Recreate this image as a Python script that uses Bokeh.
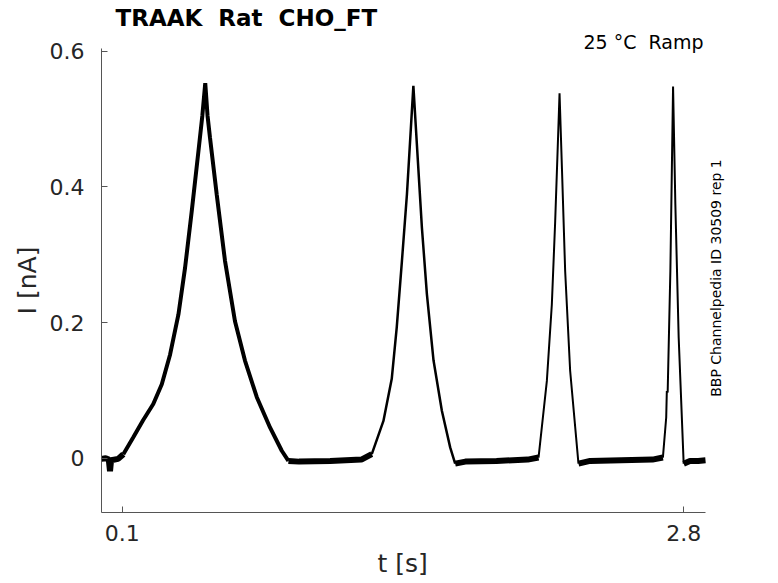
import math
from bokeh.plotting import figure
from bokeh.models import Range1d, FixedTicker, Title, Label
from bokeh.embed import file_html
from bokeh.resources import INLINE

FONT = "DejaVu Sans"

# ---- data ----
title_text = "TRAAK  Rat  CHO_FT"
cond_text = "25 °C  Ramp"
source_text = "BBP Channelpedia ID 30509 rep 1"
x_label = "t [s]"
y_label = "I [nA]"

x_ticks = [0.1, 2.8]
x_tick_labels = ["0.1", "2.8"]
y_ticks = [0.0, 0.2, 0.4, 0.6]
y_tick_labels = ["0", "0.2", "0.4", "0.6"]

t_start, t_end = 0.0, 2.905
i_min, i_max = -0.08, 0.604

# baseline before first ramp
base0_t = [0.0, 0.02, 0.035, 0.041, 0.046, 0.08, 0.105]
base0_i = [-0.001, 0.0, -0.002, -0.019, -0.003, -0.001, 0.006]

# first (slow) ramp
peak1_t = [0.105, 0.153, 0.200, 0.249, 0.290, 0.330, 0.370, 0.402, 0.434, 0.466, 0.485,
           0.499, 0.510, 0.522, 0.554, 0.594, 0.642, 0.690, 0.747, 0.811, 0.867, 0.899]
peak1_i = [0.006, 0.031, 0.056, 0.080, 0.109, 0.153, 0.212, 0.281, 0.364, 0.452, 0.505,
           0.553, 0.505, 0.472, 0.389, 0.291, 0.202, 0.144, 0.090, 0.045, 0.011, -0.004]

base1_t = [0.899, 0.95, 1.10, 1.25, 1.300]
base1_i = [-0.004, -0.005, -0.004, -0.002, 0.006]

# second ramp
peak2_t = [1.300, 1.356, 1.396, 1.420, 1.445, 1.469, 1.488, 1.500,
           1.517, 1.541, 1.565, 1.597, 1.637, 1.677, 1.701]
peak2_i = [0.006, 0.055, 0.117, 0.193, 0.291, 0.389, 0.487, 0.549,
           0.462, 0.340, 0.242, 0.144, 0.070, 0.016, -0.008]

base2_t = [1.701, 1.75, 1.90, 2.05, 2.102]
base2_i = [-0.008, -0.005, -0.004, -0.002, 0.001]

# third ramp
peak3_t = [2.102, 2.142, 2.166, 2.182, 2.193, 2.203, 2.215, 2.230, 2.254, 2.294]
peak3_i = [0.001, 0.114, 0.227, 0.349, 0.447, 0.538, 0.423, 0.276, 0.129, -0.008]

base3_t = [2.294, 2.35, 2.50, 2.65, 2.700]
base3_i = [-0.008, -0.004, -0.003, -0.002, 0.001]

# fourth (fast) ramp
peak4_t = [2.700, 2.716, 2.719, 2.723, 2.736, 2.749, 2.760, 2.776, 2.800]
peak4_i = [0.001, 0.060, 0.099, 0.097, 0.276, 0.548, 0.374, 0.178, -0.008]

base4_t = [2.800, 2.83, 2.87, 2.905]
base4_i = [-0.008, -0.004, -0.004, -0.003]


def keep_spaces(s):
    # double blanks would be collapsed in SVG text; keep the gap visible
    return s.replace("  ", " \u00a0")


# ---- figure ----
W, H = 772, 582
FRAME_L, FRAME_R, FRAME_T, FRAME_B = 101, 730, 47, 512
AXIS_R = 705  # where the x axis line ends (= t_end)
px_per_s = (AXIS_R - FRAME_L) / (t_end - t_start)
x_view_end = t_start + (FRAME_R - FRAME_L) / px_per_s

p = figure(width=W, height=H, output_backend="svg", toolbar_location=None,
           title=None,
           x_range=Range1d(t_start, x_view_end), y_range=Range1d(i_min, i_max),
           min_border_left=FRAME_L, min_border_right=W - FRAME_R,
           min_border_top=FRAME_T, min_border_bottom=H - FRAME_B)
p.outline_line_color = None
p.xgrid.visible = False
p.ygrid.visible = False
p.background_fill_color = "white"
p.border_fill_color = "white"

# trace segments
segments = [
    (base0_t, base0_i, 6),
    (peak1_t, peak1_i, 4),
    (base1_t, base1_i, 6),
    (peak2_t, peak2_i, 2.5),
    (base2_t, base2_i, 6),
    (peak3_t, peak3_i, 2),
    (base3_t, base3_i, 6),
    (peak4_t, peak4_i, 2),
    (base4_t, base4_i, 6),
]
for ts, vals, lw in segments:
    p.line(ts, vals, line_color="black", line_width=lw)

# axes
for ax in (p.xaxis[0], p.yaxis[0]):
    ax.axis_line_color = "#555555"
    ax.axis_line_width = 1
    ax.major_tick_line_color = "#555555"
    ax.major_tick_in = 6
    ax.major_tick_out = 0
    ax.minor_tick_line_color = None
    ax.major_label_text_font = FONT
    ax.major_label_text_font_size = "22px"
    ax.major_label_text_color = "#262626"

p.xaxis[0].ticker = FixedTicker(ticks=x_ticks)
p.xaxis[0].major_label_overrides = dict(zip(x_ticks, x_tick_labels))
p.xaxis[0].major_label_standoff = 12
p.xaxis[0].bounds = (t_start, t_end)

p.yaxis[0].ticker = FixedTicker(ticks=y_ticks)
p.yaxis[0].major_label_overrides = dict(zip(y_ticks, y_tick_labels))
p.yaxis[0].major_label_standoff = 17
p.yaxis[0].axis_label = y_label
p.yaxis[0].axis_label_standoff = 5
p.yaxis[0].axis_label_text_font = FONT
p.yaxis[0].axis_label_text_font_size = "25px"
p.yaxis[0].axis_label_text_font_style = "normal"
p.yaxis[0].axis_label_text_color = "#262626"

# x axis label, centred under the axis line
p.add_layout(Title(text=x_label, align="left", offset=276, standoff=7,
                   vertical_align="bottom",
                   text_font=FONT, text_font_size="25px",
                   text_font_style="normal", text_color="#262626"), "below")

# condition note (nearest the frame) and title above it
p.add_layout(Title(text=keep_spaces(cond_text), align="right", offset=FRAME_R - 703,
                   standoff=-8,
                   text_font=FONT, text_font_size="19px",
                   text_font_style="normal", text_color="black"), "above")
p.add_layout(Title(text=keep_spaces(title_text), align="left", offset=14, standoff=4,
                   text_font=FONT, text_font_size="23px",
                   text_font_style="bold", text_color="black"), "above")

# vertical source note at the right (inside the widened frame)
p.add_layout(Label(x=715 - FRAME_L, y=FRAME_B - 277.5, x_units="screen", y_units="screen",
                   text=source_text, text_font=FONT, text_font_size="14px",
                   text_color="black", angle=math.pi / 2,
                   text_align="center", text_baseline="alphabetic"))

open("out.html", "w").write(file_html(p, INLINE))
